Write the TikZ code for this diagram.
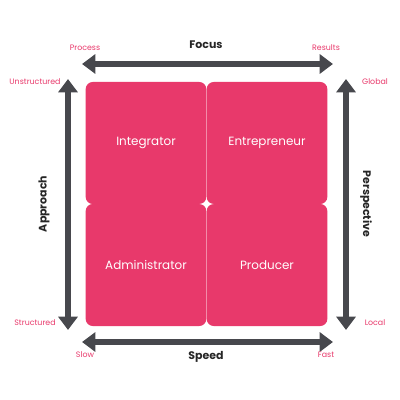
\documentclass[tikz,border=0pt]{standalone}
\usepackage{fontspec}
\setmainfont{Poppins}
\usepackage{xcolor}
\usepackage{tikz}
\usetikzlibrary{arrows.meta,positioning,calc}

\definecolor{rolepink}{HTML}{E8396B}
\definecolor{axisgray}{HTML}{47484D}

\begin{document}
\begin{tikzpicture}[
  x=0.025cm, y=-0.025cm,
  every node/.style={font=\scriptsize},
  rolebox/.style={fill=rolepink, rounded corners=5pt, inner sep=0pt,
    minimum width=3.015cm, minimum height=3.05cm, text=white,
    font=\fontsize{8.5}{10}\selectfont},
  axis/.style={{Triangle[length=9.5pt, width=13.5pt]}-{Triangle[length=9.5pt, width=13.5pt]},
    line width=4.2pt, axisgray},
  endlabel/.style={rolepink, font=\fontsize{5.6}{7}\selectfont},
  axistitle/.style={font=\fontsize{7.8}{9}\selectfont\bfseries, text=black!85},
]

%% ── Canvas ───────────────────────────────────────────────────────────────────
\useasboundingbox (0,0) rectangle (400,400);

%% ── Role quadrants ───────────────────────────────────────────────────────────
\node[rolebox] (integ) at (146,143) {Integrator};
\node[rolebox] (entre) at (267,143) {Entrepreneur};
\node[rolebox] (admin) at (146,265) {Administrator};
\node[rolebox] (prod)  at (267,265) {Producer};

%% small white sparkle at the centre
\fill[white] (206.5,197) .. controls (207.1,203.4) .. (213.5,204)
  .. controls (207.1,204.6) .. (206.5,211)
  .. controls (205.9,204.6) .. (199.5,204)
  .. controls (205.9,203.4) .. (206.5,197) -- cycle;

%% ── Axis end points ──────────────────────────────────────────────────────────
\coordinate (focusL) at (82,64);
\coordinate (focusR) at (333,64);
\coordinate (speedL) at (82,342);
\coordinate (speedR) at (333,342);
\coordinate (apprT)  at (68,79);
\coordinate (apprB)  at (68,330);
\coordinate (perspT) at (346,79);
\coordinate (perspB) at (346,330);

%% ── Axes ─────────────────────────────────────────────────────────────────────
\draw[axis] (focusL) -- (focusR);
\draw[axis] (speedL) -- (speedR);
\draw[axis] (apprT) -- (apprB);
\draw[axis] (perspT) -- (perspB);

%% Titles
\node[axistitle] (focus) at (206,45) {Focus};
\node[axistitle] (speed) at (206,357) {Speed};
\node[axistitle, rotate=90] (approach) at (44,204) {Approach};
\node[axistitle, rotate=-90] (persp) at (366,204) {Perspective};

%% End labels
\node[endlabel] (process) at (85,48)  {Process};
\node[endlabel] (results) at (326,48) {Results};
\node[endlabel] (slow)    at (85,355) {Slow};
\node[endlabel] (fast)    at (326,355) {Fast};
\node[endlabel] (unstr)   at (35,82)  {Unstructured};
\node[endlabel] (struct)  at (35,323) {Structured};
\node[endlabel] (global)  at (375,82) {Global};
\node[endlabel] (local)   at (375,323) {Local};

\end{tikzpicture}
\end{document}
